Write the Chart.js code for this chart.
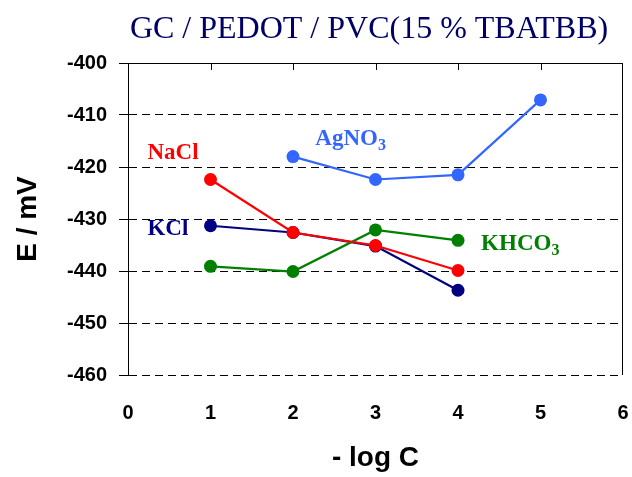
<!DOCTYPE html>
<html>
<head>
<meta charset="utf-8">
<script src="https://cdn.jsdelivr.net/npm/chart.js@4/dist/chart.umd.min.js"></script>
<style>
  html, body { margin: 0; padding: 0; background: #fff; }
  canvas { display: block; }
</style>
</head>
<body>
<canvas id="potChart" width="632" height="477"></canvas>
<script>
// -log C values
const logC = [1, 2, 3, 4];
const logCAg = [2, 3, 4, 5];

// potentials in mV
const eNaCl = [-422.4, -432.6, -435.1, -439.9];
const eKCl = [-431.3, -432.6, -435.2, -443.7];
const eKHCO3 = [-439.1, -440.1, -432.1, -434.1];
const eAgNO3 = [-418.0, -422.4, -421.5, -407.1];

const yTicks = [-460, -450, -440, -430, -420, -410, -400];
const xTicks = [0, 1, 2, 3, 4, 5, 6];

function pairs(xs, ys) {
    return xs.map((x, i) => ({ x: x, y: ys[i] }));
}

function series(label, xs, ys, color) {
    return {
        label: label,
        data: pairs(xs, ys),
        borderColor: color,
        backgroundColor: color,
        pointBackgroundColor: color,
        pointBorderWidth: 0,
        pointRadius: 6.5,
        borderWidth: 2.2,
        tension: 0
    };
}

// series name labels, placed in data units (x, baseline y)
const nameLabels = [
    { main: 'NaCl', sub: '', x: 0.236, y: -418.4, color: '#ff0000' },
    { main: 'AgNO', sub: '3', x: 2.27, y: -415.7, color: '#3366ff' },
    { main: 'KCl', sub: '', x: 0.236, y: -433.0, color: '#000080' },
    { main: 'KHCO', sub: '3', x: 4.28, y: -435.9, color: '#008000' }
];

const framePlugin = {
    id: 'frame',
    afterDraw(chart) {
        const ctx = chart.ctx;
        const a = chart.chartArea;
        const xs = chart.scales.x;
        ctx.save();
        ctx.strokeStyle = '#000';
        ctx.lineWidth = 1;
        ctx.setLineDash([]);
        ctx.beginPath();
        ctx.moveTo(a.left, a.top + 0.5);
        ctx.lineTo(a.right, a.top + 0.5);
        ctx.moveTo(a.right - 0.5, a.top);
        ctx.lineTo(a.right - 0.5, a.bottom);
        xs.ticks.forEach(t => {
            if (t.value > xs.min && t.value < xs.max) {
                const px = Math.round(xs.getPixelForValue(t.value)) + 0.5;
                ctx.moveTo(px, a.top);
                ctx.lineTo(px, a.top + 7);
            }
        });
        ctx.stroke();

        // title
        ctx.fillStyle = '#000066';
        ctx.font = '32px "Liberation Serif", "Times New Roman", serif';
        ctx.textAlign = 'center';
        ctx.textBaseline = 'alphabetic';
        ctx.fillText('GC / PEDOT / PVC(15 % TBATBB)', 369, 38);

        // series names
        const ys = chart.scales.y;
        ctx.textAlign = 'left';
        nameLabels.forEach(l => {
            const px = xs.getPixelForValue(l.x);
            const py = ys.getPixelForValue(l.y);
            ctx.fillStyle = l.color;
            ctx.font = 'bold 23px "Liberation Serif", "Times New Roman", serif';
            ctx.fillText(l.main, px, py);
            if (l.sub) {
                const w = ctx.measureText(l.main).width;
                ctx.font = 'bold 16px "Liberation Serif", "Times New Roman", serif';
                ctx.fillText(l.sub, px + w, py + 5);
            }
        });
        ctx.restore();
    }
};

const ctx = document.getElementById('potChart').getContext('2d');
new Chart(ctx, {
    type: 'line',
    data: {
        datasets: [
            series('NaCl', logC, eNaCl, '#ff0000'),
            series('KHCO3', logC, eKHCO3, '#008000'),
            series('KCl', logC, eKCl, '#000080'),
            series('AgNO3', logCAg, eAgNO3, '#3366ff')
        ]
    },
    options: {
        responsive: false,
        animation: false,
        devicePixelRatio: 1,
        layout: { padding: { top: 63, right: 9, left: 0, bottom: 0 } },
        plugins: {
            legend: { display: false },
            title: { display: false },
            tooltip: { enabled: false }
        },
        scales: {
            x: {
                type: 'linear',
                min: 0,
                max: 6,
                afterFit: s => {
                    s.height = 102;
                    s.paddingLeft = 0;
                    s.paddingRight = 0;
                },
                afterBuildTicks: s => { s.ticks = xTicks.map(v => ({ value: v })); },
                grid: { display: false, drawTicks: false },
                border: { display: false },
                ticks: {
                    padding: 26,
                    color: '#000',
                    font: { family: '"Liberation Sans", Arial, sans-serif', size: 20, weight: 'bold' }
                },
                title: {
                    display: true,
                    text: '- log C',
                    color: '#000',
                    padding: { top: 0, bottom: 2 },
                    font: { family: '"Liberation Sans", Arial, sans-serif', size: 28, weight: 'bold' }
                }
            },
            y: {
                min: -460,
                max: -400,
                afterFit: s => { s.width = 128; },
                afterBuildTicks: s => { s.ticks = yTicks.map(v => ({ value: v })); },
                grid: {
                    color: '#000',
                    lineWidth: 1,
                    tickLength: 9,
                    tickBorderDash: [],
                    tickColor: '#000'
                },
                border: { display: true, color: '#000', width: 1, dash: [8, 5] },
                ticks: {
                    padding: 12,
                    color: '#000',
                    font: { family: '"Liberation Sans", Arial, sans-serif', size: 20, weight: 'bold' }
                },
                title: {
                    display: true,
                    text: 'E / mV',
                    color: '#000',
                    padding: { top: 11, bottom: 0 },
                    font: { family: '"Liberation Sans", Arial, sans-serif', size: 28, weight: 'bold' }
                }
            }
        }
    },
    plugins: [framePlugin]
});
</script>
</body>
</html>
